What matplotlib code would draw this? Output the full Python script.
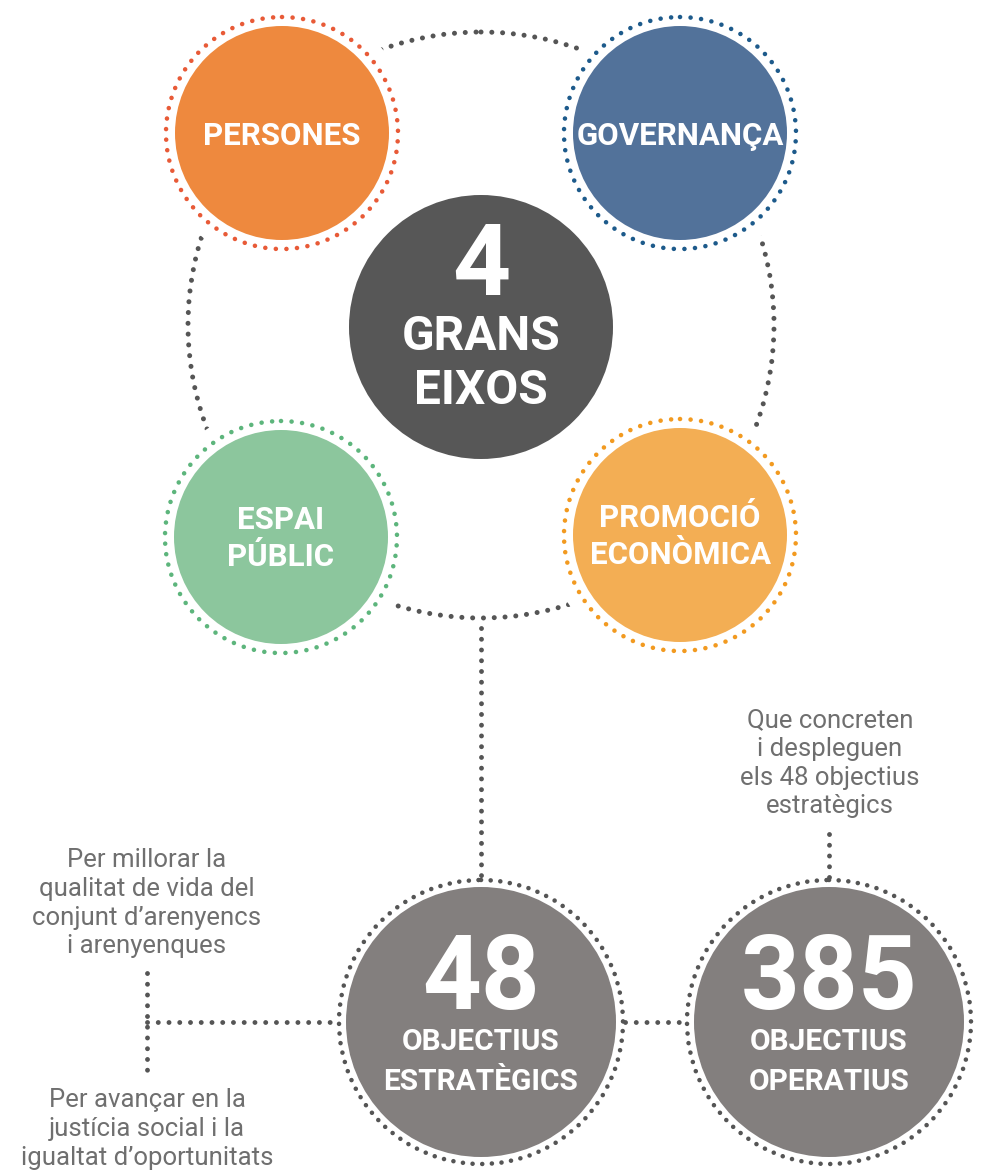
import matplotlib
matplotlib.use("Agg")
import matplotlib.pyplot as plt
from matplotlib.patches import Circle

# ---- data ----
axis_labels = ["PERSONES", "GOVERNANÇA", "ESPAI\nPÚBLIC", "PROMOCIÓ\nECONÒMICA"]
axis_fill = ["#ee893e", "#52729a", "#8cc69d", "#f3ae54"]
axis_dots = ["#e85a37", "#1d5a8b", "#5db57c", "#f29a20"]
center_number = "4"
center_label = ["GRANS", "EIXOS"]
goal_numbers = ["48", "385"]
goal_labels = [["OBJECTIUS", "ESTRATÈGICS"], ["OBJECTIUS", "OPERATIUS"]]
note_strategic_top = ["Per millorar la", "qualitat de vida del", "conjunt d’arenyencs", "i arenyenques"]
note_strategic_bottom = ["Per avançar en la", "justícia social i la", "igualtat d’oportunitats"]
note_operative = ["Que concreten", "i despleguen", "els 48 objectius", "estratègics"]

# ---- layout ----
W, H = 986, 1172
fig = plt.figure(figsize=(W / 100, H / 100), dpi=100)
ax = fig.add_axes([0, 0, 1, 1])
ax.set_xlim(0, W)
ax.set_ylim(H, 0)
ax.axis("off")

FONT = "Roboto"
DOT = "#555555"
TXT = "#6f6f6f"


def dotted_circle(cx, cy, r, color, lw, gap, z):
    c = Circle((cx, cy), r, fill=False, edgecolor=color, lw=lw,
               linestyle=(0, (0.01, gap)), capstyle="round", zorder=z)
    ax.add_patch(c)


def dotted_line(xs, ys, lw=3.5, gap=2.2, z=1):
    ax.plot(xs, ys, color=DOT, lw=lw, linestyle=(0, (0.01, gap)),
            dash_capstyle="round", solid_capstyle="round", zorder=z)


# big connecting ring
ring_c = (481, 325)
dotted_circle(ring_c[0], ring_c[1], 293, DOT, 3.6, 2.15, 1)

# four axis circles
axis_centers = [(282, 133), (680, 133), (281, 537), (680, 535)]
for (cx, cy), lab, fc, dc in zip(axis_centers, axis_labels, axis_fill, axis_dots):
    ax.add_patch(Circle((cx, cy), 131, facecolor="white", edgecolor="none", zorder=2))
    ax.add_patch(Circle((cx, cy), 107, facecolor=fc, edgecolor="none", zorder=3))
    dotted_circle(cx, cy, 116, dc, 3.3, 2.3, 3)
    lines = lab.split("\n")
    if len(lines) == 1:
        bases = [cy + 12]
    else:
        bases = [cy - 8, cy + 29]
    for t, b in zip(lines, bases):
        ax.text(cx, b, t, ha="center", va="baseline", color="white",
                fontsize=22.5, fontweight="bold", family=FONT, zorder=5)

# central circle
ax.add_patch(Circle((481, 327), 132, facecolor="#575757", edgecolor="none", zorder=3))
ax.text(481, 295, center_number, ha="center", va="baseline", color="white",
        fontsize=73, fontweight="bold", family=FONT, zorder=5)
for t, b in zip(center_label, [350, 404]):
    ax.text(481, b, t, ha="center", va="baseline", color="white",
            fontsize=34.5, fontweight="bold", family=FONT, zorder=5)

# connector lines
dotted_line([481, 481], [628, 876])
dotted_line([147, 336], [1022, 1022])
dotted_line([147, 147], [973, 1071])
dotted_line([625, 688], [1022, 1022])
dotted_line([829, 829], [834, 878])

# goal circles
goal_centers = [(481, 1022), (829, 1022)]
for (cx, cy), num, labs in zip(goal_centers, goal_numbers, goal_labels):
    ax.add_patch(Circle((cx, cy), 135, facecolor="#837f7e", edgecolor="none", zorder=3))
    dotted_circle(cx, cy, 142, DOT, 3.3, 2.1, 3)
    ax.text(cx, cy - 13, num, ha="center", va="baseline", color="white",
            fontsize=74, fontweight="bold", family=FONT, zorder=5)
    for t, b in zip(labs, [cy + 28, cy + 68]):
        ax.text(cx, b, t, ha="center", va="baseline", color="white",
                fontsize=21.5, fontweight="bold", family=FONT, zorder=5)

# notes
def note(lines, x, y0, step=28.8):
    for i, t in enumerate(lines):
        ax.text(x, y0 + i * step, t, ha="center", va="baseline", color=TXT,
                fontsize=18.5, family=FONT, zorder=5)

note(note_strategic_top, 147, 867)
note(note_strategic_bottom, 147, 1107)
note(note_operative, 830, 727)

fig.savefig("out.png", dpi=100, facecolor="white")
